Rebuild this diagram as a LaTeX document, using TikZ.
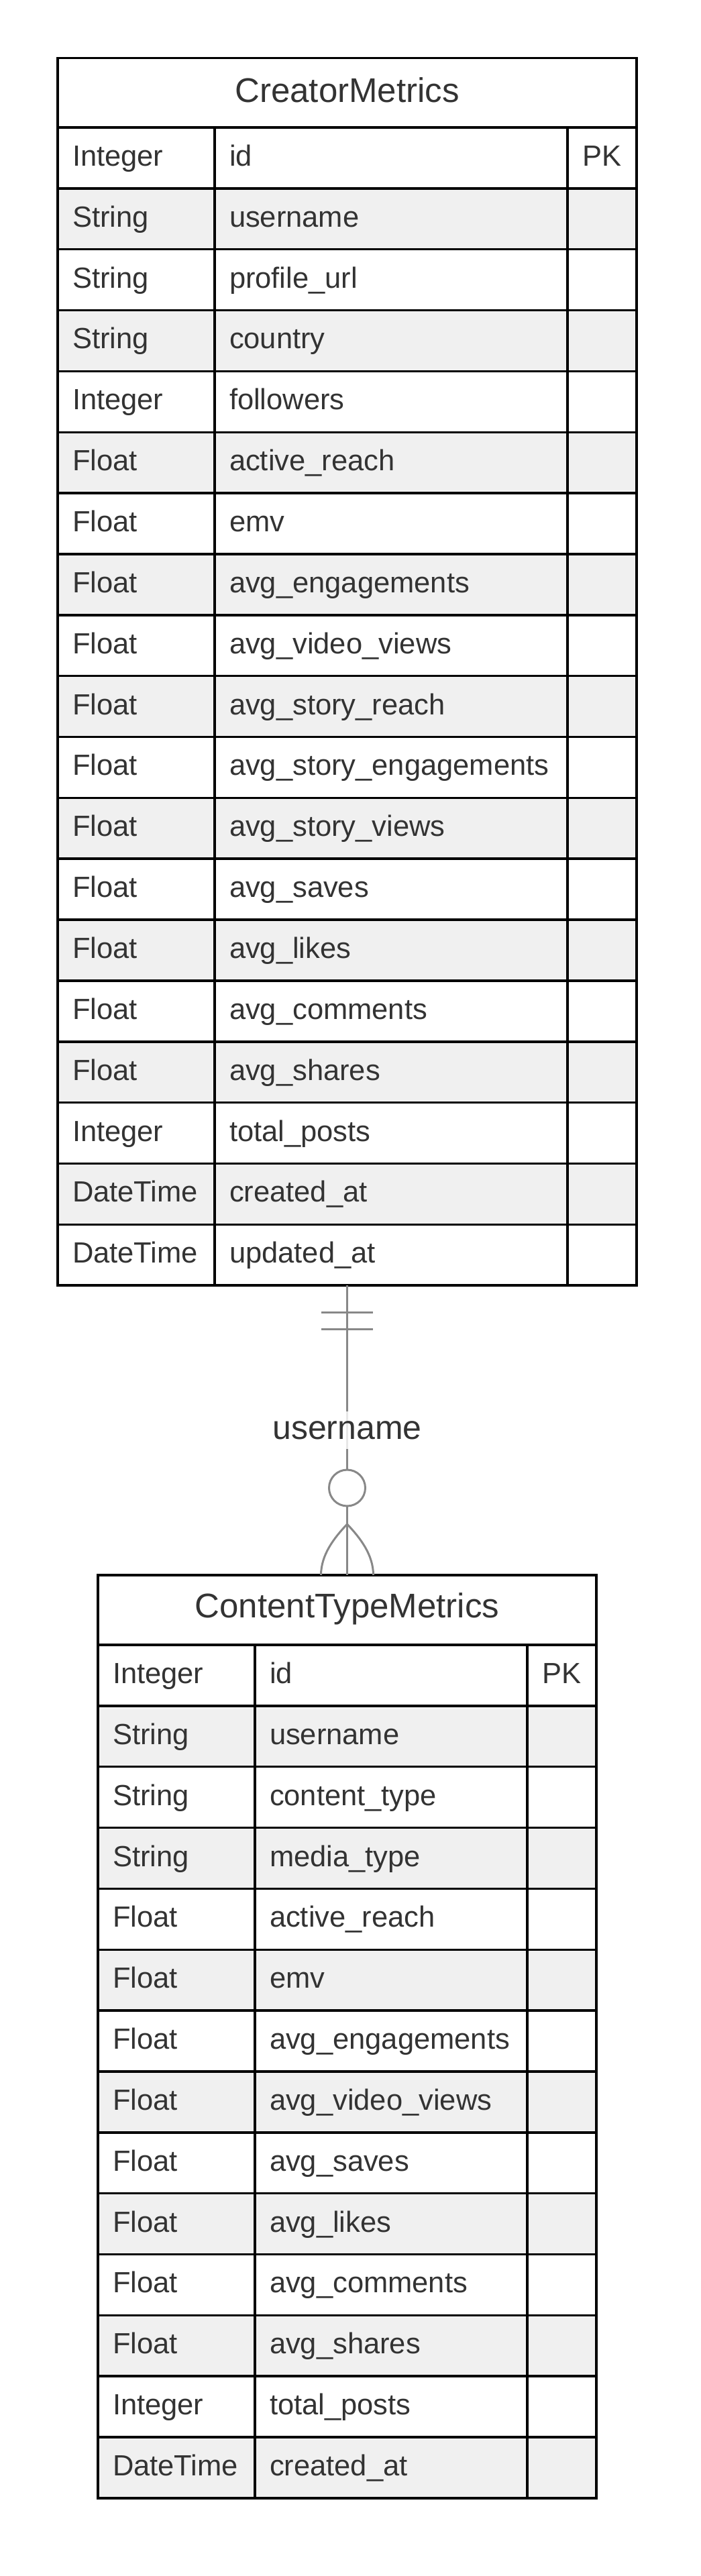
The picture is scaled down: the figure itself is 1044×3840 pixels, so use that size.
\documentclass[tikz,border=0pt]{standalone}
\usepackage{fontspec}
\setmainfont{Liberation Sans}
\usetikzlibrary{calc}
\definecolor{txtc}{HTML}{333333}
\definecolor{rowg}{HTML}{F0F0F0}
\definecolor{connc}{HTML}{888888}
\tikzset{
  cellbox/.style={draw=black, line width=3.5pt, anchor=north west, minimum height=90.85pt,
    inner xsep=22pt, inner ysep=0pt, outer sep=0pt, text height=32pt, text depth=8pt,
    align=left, text=txtc, font=\fontsize{43.5}{52}\selectfont},
  framebox/.style={draw=black, line width=3.5pt, anchor=north west, inner sep=0pt, outer sep=0pt},
  titlebox/.style={draw=black, line width=3.5pt, anchor=north west, inner sep=0pt, outer sep=0pt,
    text=txtc, font=\fontsize{51}{61}\selectfont, fill=white},
  conn/.style={draw=connc, line width=3pt},
  connlabel/.style={fill=white, fill opacity=0.8, text opacity=1, text=txtc,
    font=\fontsize{50}{60}\selectfont, inner xsep=2pt, inner ysep=4pt, text height=37pt, text depth=11pt},
}
\begin{document}
\begin{tikzpicture}[x=1pt,y=-1pt]
\useasboundingbox (0,0) rectangle (1044,3840);

% ---------------- CreatorMetrics ----------------
\node[titlebox, minimum width=863pt, minimum height=103.3pt, text height=38pt, text depth=9.2pt]
  (t1title) at (86,86.7) {CreatorMetrics};
\foreach \ty/\nm/\ky [count=\i] in {
  Integer/id/PK,
  String/username/{},
  String/profile\_url/{},
  String/country/{},
  Integer/followers/{},
  Float/active\_reach/{},
  Float/emv/{},
  Float/avg\_engagements/{},
  Float/avg\_video\_views/{},
  Float/avg\_story\_reach/{},
  Float/avg\_story\_engagements/{},
  Float/avg\_story\_views/{},
  Float/avg\_saves/{},
  Float/avg\_likes/{},
  Float/avg\_comments/{},
  Float/avg\_shares/{},
  Integer/total\_posts/{},
  DateTime/created\_at/{},
  DateTime/updated\_at/{}}{
  \pgfmathsetmacro\yt{190+(\i-1)*90.85}
  \ifodd\i\def\fc{white}\else\def\fc{rowg}\fi
  \node[cellbox, fill=\fc, text width=190pt] (t1a\i) at (86,\yt) {\mbox{\ty}};
  \node[cellbox, fill=\fc, text width=482pt] (t1b\i) at (320,\yt) {\mbox{\nm}};
  \node[cellbox, fill=\fc, text width=59pt] (t1c\i) at (846,\yt) {\mbox{\ky}};
}
\node[framebox, minimum width=863pt, minimum height=1829.3pt] (t1) at (86,86.7) {};

% ---------------- ContentTypeMetrics ----------------
\node[titlebox, minimum width=743pt, minimum height=104pt, text height=35pt, text depth=13pt]
  (t2title) at (146,2348) {ContentTypeMetrics};
\foreach \ty/\nm/\ky [count=\i] in {
  Integer/id/PK,
  String/username/{},
  String/content\_type/{},
  String/media\_type/{},
  Float/active\_reach/{},
  Float/emv/{},
  Float/avg\_engagements/{},
  Float/avg\_video\_views/{},
  Float/avg\_saves/{},
  Float/avg\_likes/{},
  Float/avg\_comments/{},
  Float/avg\_shares/{},
  Integer/total\_posts/{},
  DateTime/created\_at/{}}{
  \pgfmathsetmacro\yt{2452+(\i-1)*90.85}
  \ifodd\i\def\fc{white}\else\def\fc{rowg}\fi
  \node[cellbox, fill=\fc, text width=190pt] (t2a\i) at (146,\yt) {\mbox{\ty}};
  \node[cellbox, fill=\fc, text width=362pt] (t2b\i) at (380,\yt) {\mbox{\nm}};
  \node[cellbox, fill=\fc, text width=59pt] (t2c\i) at (786,\yt) {\mbox{\ky}};
}
\node[framebox, minimum width=743pt, minimum height=1376pt] (t2) at (146,2348) {};

% ---------------- relationship ----------------
\draw[conn] (t1.south) -- (t2.north) node[midway, connlabel] (lbl) {username};
% exactly-one end
\draw[conn] ($(t1.south)+(-38.5,40)$) -- ($(t1.south)+(38.5,40)$);
\draw[conn] ($(t1.south)+(-38.5,65)$) -- ($(t1.south)+(38.5,65)$);
% zero-or-many end
\draw[conn, fill=white] ($(t2.north)+(0,-130)$) circle[radius=27];
\draw[conn] ($(t2.north)+(0,-76)$) .. controls ($(t2.north)+(-20,-55)$) and ($(t2.north)+(-39,-30)$) .. ($(t2.north)+(-39,0)$);
\draw[conn] ($(t2.north)+(0,-76)$) .. controls ($(t2.north)+(20,-55)$) and ($(t2.north)+(39,-30)$) .. ($(t2.north)+(39,0)$);
\end{tikzpicture}
\end{document}
